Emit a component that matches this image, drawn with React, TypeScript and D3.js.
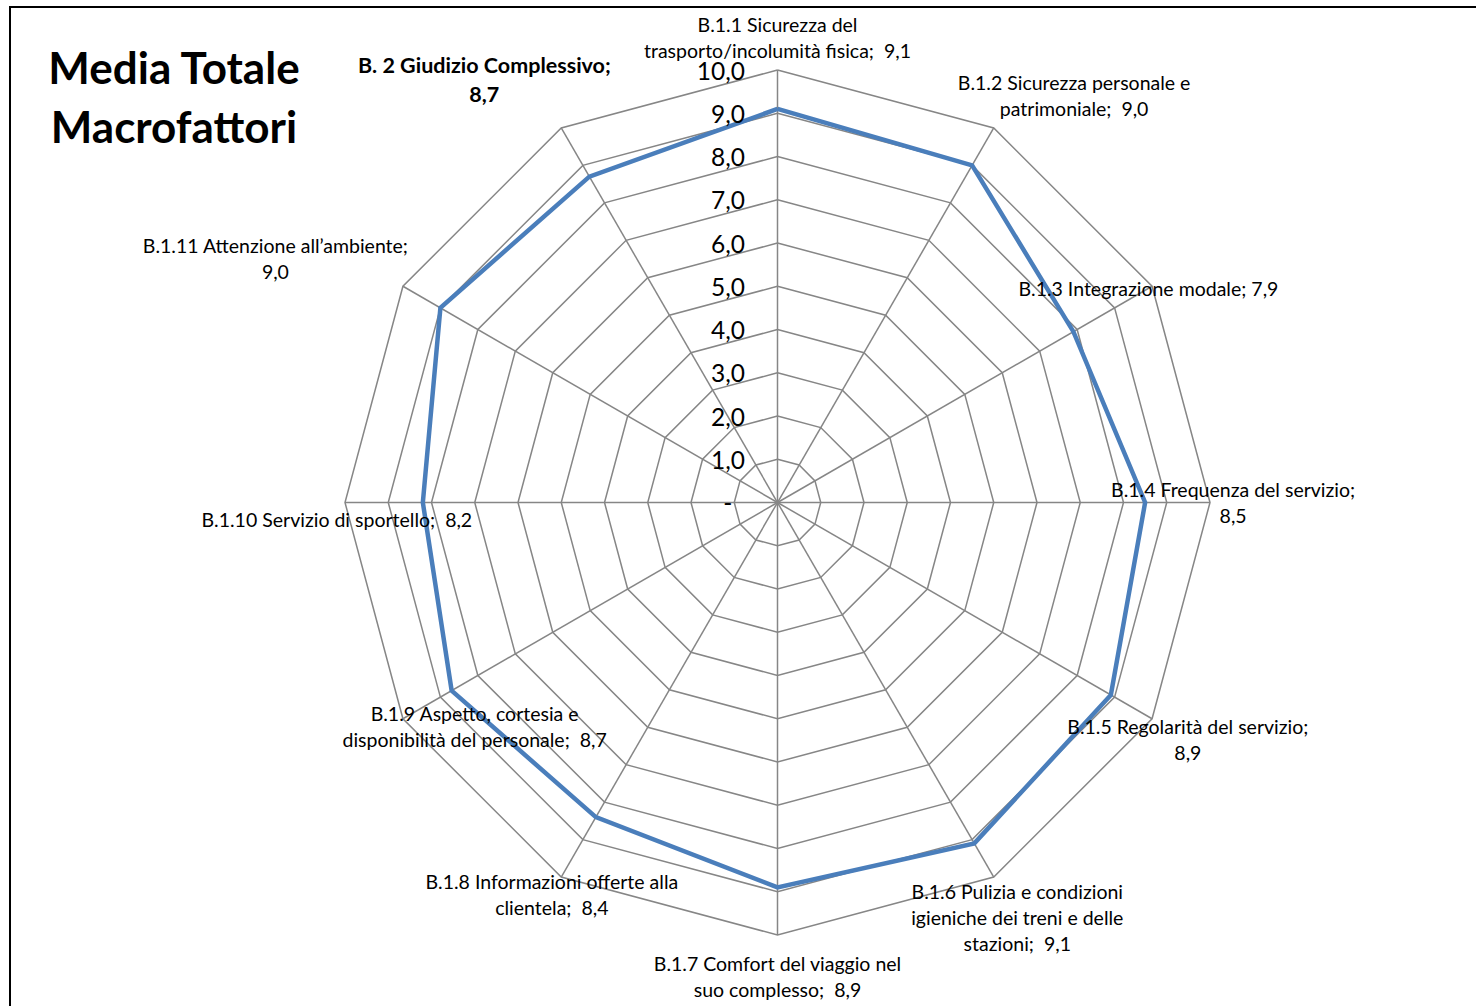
import React from "react";
import * as d3 from "d3";

// Category names around the radar, clockwise from the top
const categories: string[] = [
  "B.1.1 Sicurezza del trasporto/incolumità fisica",
  "B.1.2 Sicurezza personale e patrimoniale",
  "B.1.3 Integrazione modale",
  "B.1.4 Frequenza del servizio",
  "B.1.5 Regolarità del servizio",
  "B.1.6 Pulizia e condizioni igieniche dei treni e delle stazioni",
  "B.1.7 Comfort del viaggio nel suo complesso",
  "B.1.8 Informazioni offerte alla clientela",
  "B.1.9 Aspetto, cortesia e disponibilità del personale",
  "B.1.10 Servizio di sportello",
  "B.1.11 Attenzione all’ambiente",
  "B. 2 Giudizio Complessivo",
];

// Average score per category
const values: number[] = [9.1, 9.0, 7.9, 8.5, 8.9, 9.1, 8.9, 8.4, 8.7, 8.2, 9.0, 8.7];

// Radial axis ticks
const ticks: number[] = [0, 1, 2, 3, 4, 5, 6, 7, 8, 9, 10];

// Words per line for each data label (name words followed by the value)
const labelWrap: number[][] = [
  [3, 3], [4, 2], [4], [4, 1], [4, 1], [4, 5, 2],
  [5, 3], [4, 2], [4, 4], [5], [3, 1], [4, 1],
];

// Gap between name and value in each data label
const valueGap: string[] = ["  ", "  ", " ", " ", " ", "  ", "  ", "  ", "  ", "  ", " ", " "];

// Data label offsets from their point (centre of the text block)
const labelOffset: [number, number][] = [
  [0, -71], [102, -70], [75, -43], [88, 0], [77, 45], [43, 74],
  [0, 89], [-44, 77], [23, 36], [-86, 17], [-165, -49], [-105, -97],
];

const titleLines: string[] = ["Media Totale", "Macrofattori"];

const W = 1476;
const H = 1006;
const cx = 777.5;
const cy = 502.5;
const R = 432.5;
const FONT = "Lato, 'Open Sans', sans-serif";

const fmt = (v: number) => (v === 0 ? "-" : d3.format(".1f")(v).replace(".", ","));

export default function App() {
  const n = categories.length;
  const r = d3.scaleLinear().domain([0, 10]).range([0, R]);
  const angle = d3.scaleLinear().domain([0, n]).range([0, 2 * Math.PI]);
  const pt = (i: number, v: number): [number, number] => {
    const a = angle(i);
    return [cx + r(v) * Math.sin(a), cy - r(v) * Math.cos(a)];
  };

  const ring = (v: number) =>
    d3.line()(d3.range(n + 1).map((i) => pt(i % n, v))) as string;

  const dataPath = d3.line()(d3.range(n + 1).map((i) => pt(i % n, values[i % n]))) as string;

  const labels = categories.map((name, i) => {
    const words = (name + ";").split(" ");
    const tokens = [...words, fmt(values[i])];
    const lines: string[] = [];
    let k = 0;
    labelWrap[i].forEach((cnt) => {
      const seg = tokens.slice(k, k + cnt);
      k += cnt;
      let s = "";
      seg.forEach((t, j) => {
        const isVal = k - cnt + j === tokens.length - 1;
        if (j === 0) s = t;
        else s += (isVal ? valueGap[i] : " ") + t;
      });
      lines.push(s);
    });
    const [px, py] = pt(i, values[i]);
    const bold = i === n - 1;
    return { lines, x: px + labelOffset[i][0], y: py + labelOffset[i][1], bold };
  });

  return (
    <svg
      width={W}
      height={H}
      style={{ position: "absolute", left: 0, top: 0, background: "#fff" }}
      fontFamily={FONT}
    >
      <rect x={0} y={0} width={W} height={H} fill="#fff" />
      <rect x={10} y={7} width={W + 20} height={H + 20} fill="none" stroke="#000" strokeWidth={2} />

      {titleLines.map((t, i) => (
        <text
          key={t}
          x={174}
          y={67 + i * 59}
          textAnchor="middle"
          dominantBaseline="central"
          fontSize={44}
          fontWeight="bold"
          fill="#000"
        >
          {t}
        </text>
      ))}

      {/* grid rings */}
      {ticks.slice(1).map((t) => (
        <path key={t} d={ring(t)} fill="none" stroke="#868686" strokeWidth={1.5} />
      ))}
      {/* spokes */}
      {categories.map((_, i) => {
        const [x, y] = pt(i, 10);
        return <line key={i} x1={cx} y1={cy} x2={x} y2={y} stroke="#868686" strokeWidth={1.5} />;
      })}

      {/* series */}
      <path d={dataPath} fill="none" stroke="#4a7ebb" strokeWidth={4.5} strokeLinejoin="miter" />

      {/* tick labels */}
      {ticks.map((t) => (
        <text
          key={t}
          x={745}
          y={cy - r(t)}
          textAnchor="end"
          dominantBaseline="central"
          fontSize={24.5}
          fill="#000"
          style={{ whiteSpace: "pre" }}
        >
          {t === 0 ? fmt(t) + "  " : fmt(t)}
        </text>
      ))}

      {/* data labels */}
      {labels.map((l, i) => {
        const lh = l.bold ? 29 : 26;
        const top = l.y - ((l.lines.length - 1) * lh) / 2;
        return (
          <g key={i}>
            {l.lines.map((s, j) => (
              <text
                key={j}
                x={l.x}
                y={top + j * lh}
                textAnchor="middle"
                dominantBaseline="central"
                fontSize={l.bold ? 21.5 : 19.5}
                fontWeight={l.bold ? "bold" : "normal"}
                fill="#000"
                style={{ whiteSpace: "pre" }}
              >
                {s}
              </text>
            ))}
          </g>
        );
      })}
    </svg>
  );
}
